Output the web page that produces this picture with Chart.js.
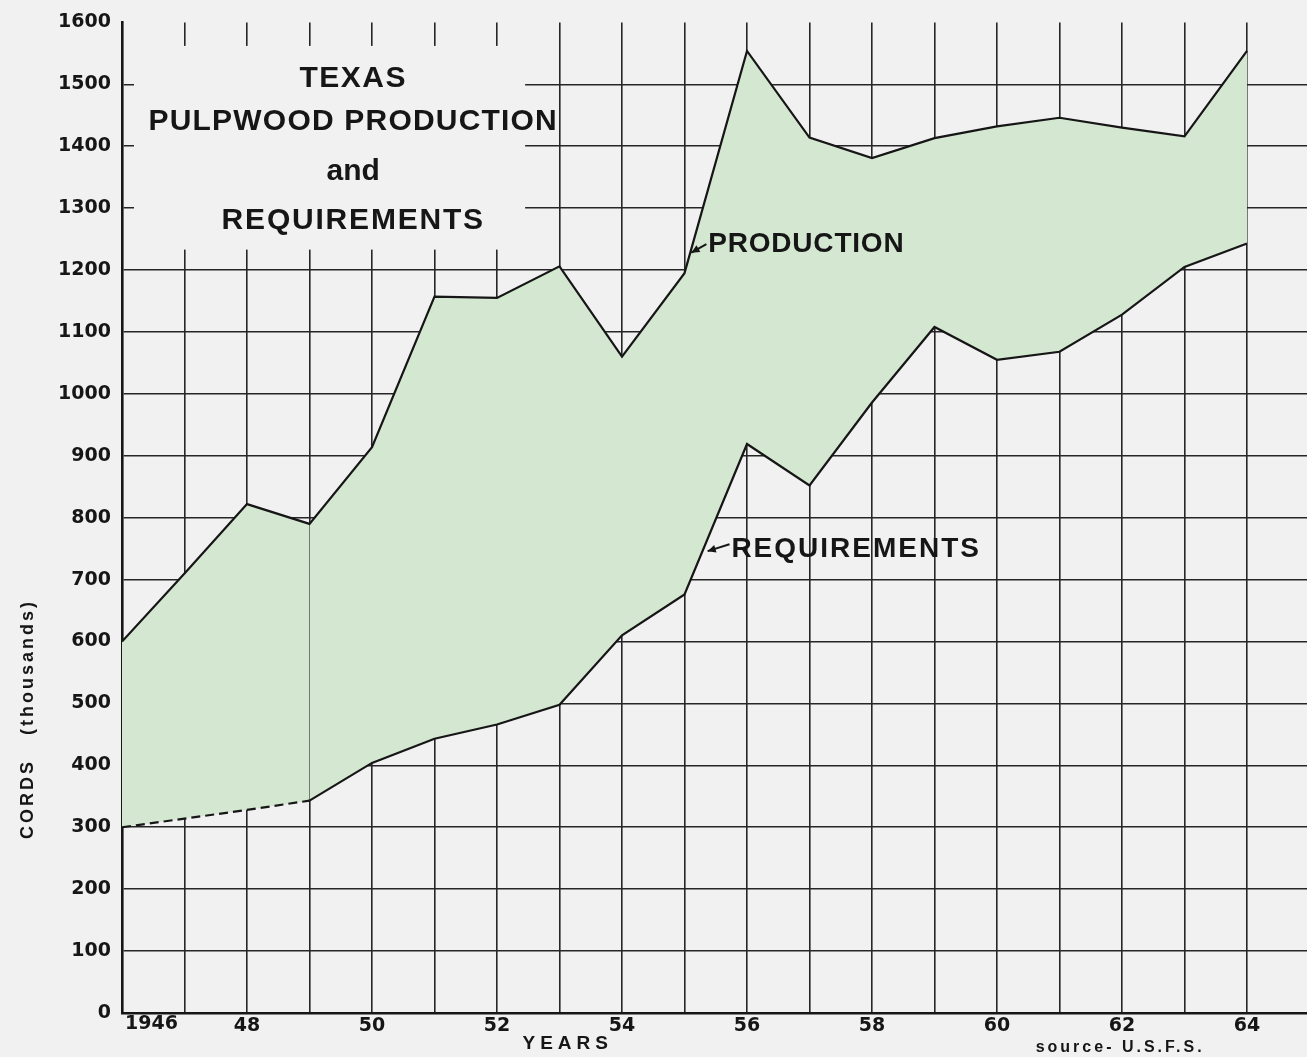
<!DOCTYPE html>
<html><head><meta charset="utf-8">
<script src="https://cdn.jsdelivr.net/npm/chart.js@4/dist/chart.umd.min.js"></script>
<style>html,body{margin:0;padding:0;background:#f1f1f1;}#wrap{width:1307px;height:1057px;}</style>
</head><body><div id="wrap"><canvas id="c" width="1307" height="1057"></canvas></div>
<script>
const years = [1946,1947,1948,1949,1950,1951,1952,1953,1954,1955,1956,1957,1958,1959,1960,1961,1962,1963,1964];
const production = [600,710,822,790,914,1157,1155,1206,1060,1195,1554,1414,1381,1413,1432,1446,1430,1416,1554];
const requirements = [300,314,328,343,404,443,466,498,610,676,919,852,986,1108,1055,1068,1128,1205,1243];
const xTickLabels = {1946:'1946',1948:'48',1950:'50',1952:'52',1954:'54',1956:'56',1958:'58',1960:'60',1962:'62',1964:'64'};
const yTickValues = [0,100,200,300,400,500,600,700,800,900,1000,1100,1200,1300,1400,1500,1600];
const titleLines = ['TEXAS','PULPWOOD PRODUCTION','and','REQUIREMENTS'];
const yAxisTitle = 'CORDS   (thousands)';
const xAxisTitle = 'YEARS';
const sourceNote = 'source- U.S.F.S.';
const productionLabel = 'PRODUCTION';
const requirementsLabel = 'REQUIREMENTS';

const BG = '#f1f1f1';
const INK = '#161616';
const GREEN = '#d4e7d1';

function arrow(c, x0, y0, x1, y1) {
  c.beginPath(); c.moveTo(x0, y0); c.lineTo(x1, y1); c.lineWidth = 2; c.stroke();
  const a = Math.atan2(y1 - y0, x1 - x0), L = 9, w = 0.45;
  c.beginPath(); c.moveTo(x1, y1);
  c.lineTo(x1 - L * Math.cos(a - w), y1 - L * Math.sin(a - w));
  c.lineTo(x1 - L * Math.cos(a + w), y1 - L * Math.sin(a + w));
  c.closePath(); c.fill();
}

const overlay = {
  id: 'overlay',
  beforeDraw(chart) {
    const c = chart.ctx; c.save(); c.fillStyle = BG; c.fillRect(0, 0, chart.width, chart.height); c.restore();
  },
  afterDraw(chart) {
    const c = chart.ctx, x = chart.scales.x, y = chart.scales.y;
    c.save();
    // blank area behind the title (grid is interrupted there)
    c.fillStyle = BG;
    const bx0 = x.left + 12, bx1 = x.getPixelForValue(1952.45);
    const by0 = y.getPixelForValue(1562), by1 = y.getPixelForValue(1233);
    c.fillRect(bx0, by0, bx1 - bx0, by1 - by0);

    c.fillStyle = INK; c.strokeStyle = INK;
    c.textAlign = 'center'; c.textBaseline = 'alphabetic';
    c.font = 'bold 30px "Liberation Sans", Arial, sans-serif';
    const tx = x.getPixelForValue(1949.7);
    const tyVals = [1496, 1426, 1346, 1266];
    const tls = ['1.5px', '1.2px', '0px', '1.8px'];
    titleLines.forEach((t, i) => { c.letterSpacing = tls[i]; c.fillText(t, tx, y.getPixelForValue(tyVals[i])); });

    // series labels
    c.textAlign = 'left';
    c.font = 'bold 28px "Liberation Sans", Arial, sans-serif';
    c.letterSpacing = '0.8px';
    c.fillText(productionLabel, x.getPixelForValue(1955.38), y.getPixelForValue(1229));
    c.letterSpacing = '2px';
    c.fillText(requirementsLabel, x.getPixelForValue(1955.75), y.getPixelForValue(736));
    c.letterSpacing = '0px';
    arrow(c, x.getPixelForValue(1955.35), y.getPixelForValue(1242), x.getPixelForValue(1955.11), y.getPixelForValue(1228));
    arrow(c, x.getPixelForValue(1955.72), y.getPixelForValue(757), x.getPixelForValue(1955.37), y.getPixelForValue(746));

    // first x label, left aligned at the axis
    c.font = 'bold 19px "DejaVu Sans", sans-serif';
    c.textBaseline = 'top'; c.textAlign = 'left';
    c.fillText(xTickLabels[1946], x.left + 3, x.top + 2);

    // x axis title and source
    c.textAlign = 'center'; c.textBaseline = 'middle';
    c.font = 'bold 19px "Liberation Sans", Arial, sans-serif';
    c.letterSpacing = '5px';
    c.fillText(xAxisTitle, x.getPixelForValue(1953.1) + 2, 1044);
    c.font = 'bold 16px "Liberation Sans", Arial, sans-serif';
    c.letterSpacing = '3px';
    c.fillText(sourceNote, x.getPixelForValue(1961.97), 1048);

    // y axis title
    c.save();
    c.translate(28, y.getPixelForValue(475));
    c.rotate(-Math.PI / 2);
    c.font = 'bold 18px "Liberation Sans", Arial, sans-serif';
    c.letterSpacing = '3px';
    c.fillText(yAxisTitle, 0, 0);
    c.restore();
    c.restore();
  }
};

new Chart(document.getElementById('c'), {
  type: 'line',
  data: {
    labels: years,
    datasets: [
      { label: 'Production', data: years.map((v, i) => ({x: v, y: production[i]})),
        borderColor: INK, borderWidth: 2.2, pointRadius: 0, tension: 0,
        fill: '+1', backgroundColor: GREEN },
      { label: 'Requirements', data: years.map((v, i) => ({x: v, y: requirements[i]})),
        borderColor: INK, borderWidth: 2.2, pointRadius: 0, tension: 0, fill: false,
        segment: { borderDash: ctx => ctx.p1DataIndex <= 3 ? [9, 5] : undefined } }
    ]
  },
  options: {
    responsive: false, animation: false, devicePixelRatio: 1,
    layout: { padding: { top: 13, right: 0, left: 0, bottom: 0 } },
    plugins: { legend: { display: false }, tooltip: { enabled: false },
      filler: { propagate: false, drawTime: 'beforeDatasetsDraw' } },
    scales: {
      x: {
        type: 'linear', min: 1946, max: 1964.96, z: 1,
        afterBuildTicks: s => { s.ticks = years.map(v => ({ value: v })); },
        afterFit: s => { s.height = 44; },
        grid: { color: '#262626', lineWidth: 1.6, drawTicks: false },
        border: { display: true, color: INK, width: 2.6 },
        ticks: { autoSkip: false, maxRotation: 0, padding: 2, color: INK,
          font: { family: '"DejaVu Sans", sans-serif', weight: 'bold', size: 19 },
          callback: v => (v === 1946 ? '' : (xTickLabels[v] || '')) }
      },
      y: {
        min: 0, max: 1600, z: 1,
        afterBuildTicks: s => { s.ticks = yTickValues.map(v => ({ value: v })); },
        afterFit: s => { s.width = 122; },
        grid: { color: ctx => (ctx.tick && ctx.tick.value === 1600 ? 'rgba(0,0,0,0)' : '#262626'), lineWidth: 1.6, drawTicks: false },
        border: { display: true, color: INK, width: 2.6 },
        ticks: { padding: 11, color: INK, callback: v => String(v),
          font: { family: '"DejaVu Sans", sans-serif', weight: 'bold', size: 19 } }
      }
    }
  },
  plugins: [overlay]
});
</script></body></html>
